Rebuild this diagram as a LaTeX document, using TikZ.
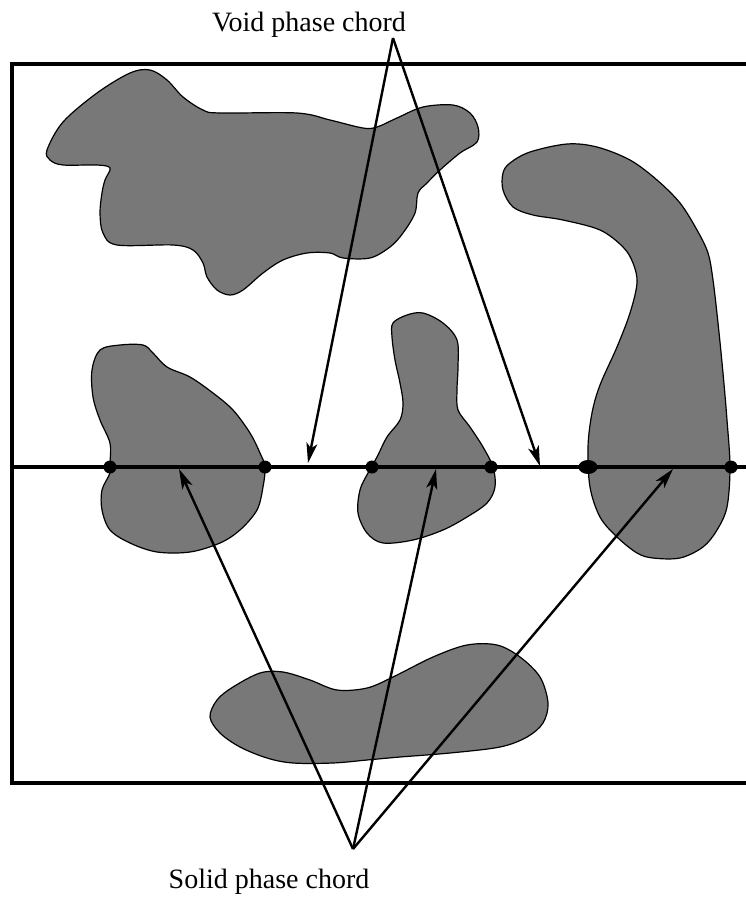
\documentclass[tikz,border=0pt]{standalone}
\usepackage{fontspec}
\setmainfont{Liberation Serif}
\usetikzlibrary{arrows.meta}
\definecolor{blobgray}{RGB}{120,120,120}
\begin{document}
\begin{tikzpicture}[x=1pt,y=-1pt,
  blob/.style={fill=blobgray,draw=black,line width=1.2pt},
  frameline/.style={line width=4pt},
  chordline/.style={line width=3.4pt},
  arr/.style={line width=2.4pt,-{Stealth[length=20pt,width=11pt,inset=5pt]}},
  joint/.style={fill=black},
  lbl/.style={font=\fontsize{28}{32}\selectfont,anchor=base,inner sep=0pt}]
\useasboundingbox (0,0) rectangle (746,898);
% particles
\draw[blob] plot[smooth cycle,tension=0.55] coordinates {
(47,150) (63,122) (97,93) (130,73) (150,70) (167,80) (183,97) (203,110) (220,113)
(297,113) (330,120) (363,128) (377,127) (397,118) (423,107) (453,105) (470,113)
(478,127) (477,142) (460,153) (440,170) (427,183) (418,193) (415,213) (403,233)
(390,247) (370,258) (343,258) (330,253) (307,253) (283,260) (263,273) (243,290)
(230,295) (217,290) (207,277) (203,263) (193,250) (173,245) (117,245) (103,233)
(100,213) (102,193) (105,180) (110,168) (97,165) (63,165) (50,160)};
\draw[blob] plot[smooth cycle,tension=0.55] coordinates {
(503,173) (510,163) (530,152) (567,144) (597,147) (630,160) (657,180) (680,203)
(697,230) (708,253) (713,280) (718,323) (723,373) (727,420) (730,467) (727,507)
(717,530) (703,547) (680,558) (653,558) (637,553) (617,537) (600,517) (590,487)
(588,447) (592,413) (600,385) (617,347) (630,313) (637,283) (633,263) (623,247)
(600,230) (563,220) (533,215) (513,207) (503,190)};
\draw[blob] plot[smooth cycle,tension=0.55] coordinates {
(100,350) (120,345) (143,345) (153,353) (167,367) (190,377) (213,393) (233,410)
(250,433) (260,453) (265,467) (263,487) (257,510) (240,530) (220,543) (190,552)
(157,552) (130,543) (110,530) (102,510) (102,490) (110,473) (110,463) (110,443)
(100,420) (93,397) (92,370)};
\draw[blob] plot[smooth cycle,tension=0.55] coordinates {
(393,323) (407,315) (423,313) (443,323) (457,340) (458,367) (457,390) (458,410)
(470,427) (483,447) (493,467) (495,487) (487,503) (467,517) (443,530) (413,540)
(383,543) (367,533) (358,513) (360,490) (368,473) (377,457) (387,437) (400,420)
(403,403) (400,383) (395,360) (392,337)};
\draw[blob] plot[smooth cycle,tension=0.55] coordinates {
(210,717) (217,700) (233,687) (260,673) (283,672) (310,680) (337,690) (367,688)
(393,677) (433,657) (467,645) (497,645) (520,657) (540,677) (548,703) (543,723)
(527,737) (500,747) (450,753) (400,757) (367,760) (333,763) (293,763) (267,758)
(240,747) (220,733)};
% frame (right side lies outside the picture)
\draw[frameline] (760,64) -- (12,64) -- (12,783) -- (760,783);
% chord line and intersection points
\coordinate (cl) at (12,467);
\coordinate (cr) at (746,467);
\draw[chordline] (cl) -- (cr);
\foreach \n/\x in {p1/110,p2/265,p3/372,p4/491,p6/731}
  \fill[joint] (\x,467) circle[radius=6.5pt] coordinate (\n);
\fill[joint] (588,467) ellipse[x radius=9.5pt,y radius=7pt] coordinate (p5);
% labels and arrows
\node[lbl] (void) at (309,31) {Void phase chord};
\node[lbl] (solid) at (269,888) {Solid phase chord};
\coordinate (vapex) at (393,38);
\coordinate (v1) at (308,463);
\coordinate (v2) at (540,466);
\draw[arr] (vapex) -- (v1);
\draw[arr] (vapex) -- (v2);
\coordinate (sapex) at (353,849);
\coordinate (s1) at (179,469);
\coordinate (s2) at (436,469);
\coordinate (s3) at (673,469);
\draw[arr] (sapex) -- (s1);
\draw[arr] (sapex) -- (s2);
\draw[arr] (sapex) -- (s3);
\end{tikzpicture}
\end{document}
